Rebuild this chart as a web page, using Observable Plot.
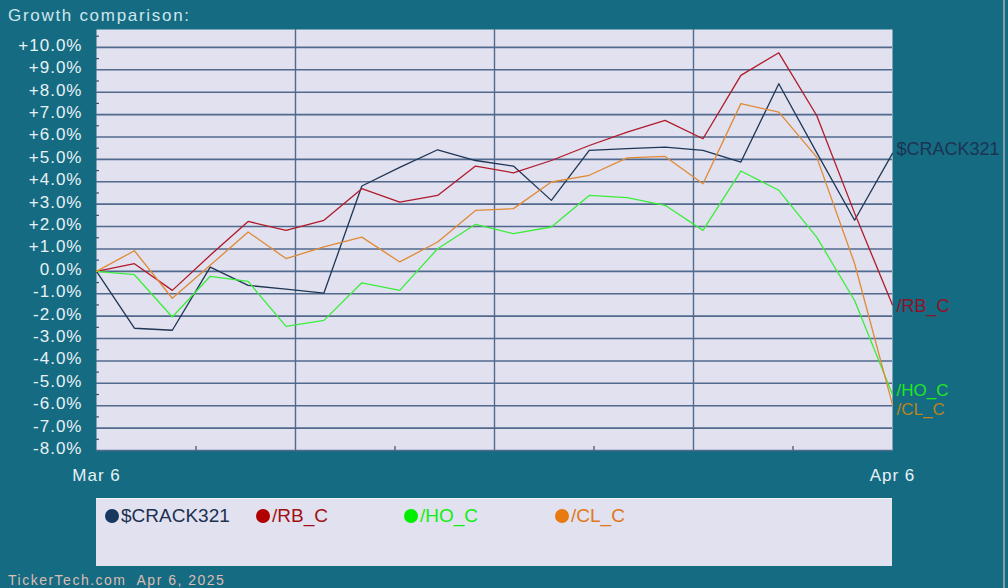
<!DOCTYPE html>
<html>
<head>
<meta charset="utf-8">
<script src="https://cdn.jsdelivr.net/npm/d3@7"></script>
<script src="https://cdn.jsdelivr.net/npm/@observablehq/plot@0.6"></script>
<style>
  html, body { margin: 0; padding: 0; background: #156b82; }
  #wrap { position: relative; width: 1008px; height: 588px; background: #156b82; overflow: hidden; font-family: "Liberation Sans", Arial, sans-serif; }
  #chart { position: absolute; left: 0; top: 0; }
  .title { position: absolute; left: 8px; top: 6px; font-size: 17px; letter-spacing: 1.7px; color: #cfe6ee; }
  .footer { position: absolute; left: 8px; top: 572px; font-size: 14px; letter-spacing: 1.5px; color: #dcbcb2; }
  .legend { position: absolute; left: 96px; top: 498px; width: 796px; height: 68px; background: #e1e1f0; border-top: 1px solid #f2f2fa; box-sizing: border-box; }
  .item { position: absolute; top: 6px; font-size: 19px; font-family: "Liberation Sans Narrow", "Arial Narrow", "Liberation Sans", sans-serif; line-height: 22px; white-space: nowrap; }
  .dot { display: inline-block; width: 14px; height: 14px; border-radius: 7px; vertical-align: -1px; margin-right: 2px; }
  .edge { position: absolute; left: 1003px; top: 0; width: 2px; height: 588px; background: #7f9faa; }
  g[aria-label="y-axis tick label"] text, g[aria-label="x-axis tick label"] text { letter-spacing: 1px; }
</style>
</head>
<body>
<div id="wrap">
  <div class="title">Growth comparison:</div>
  <div id="chart"></div>
  <div class="legend" id="legend"></div>
  <div class="footer">TickerTech.com&nbsp; Apr 6, 2025</div>
  <div class="edge"></div>
</div>
<script>
// Trading days shown (index-based x axis)
const dates = ["Mar 6","Mar 7","Mar 10","Mar 11","Mar 12","Mar 13","Mar 14","Mar 17","Mar 18","Mar 19","Mar 20","Mar 21","Mar 24","Mar 25","Mar 26","Mar 27","Mar 28","Mar 31","Apr 1","Apr 2","Apr 3","Apr 4"];
const seriesNames = ["$CRACK321", "/RB_C", "/HO_C", "/CL_C"];
const crack = [0, -2.54, -2.63, 0.19, -0.63, -0.79, -0.97, 3.81, 4.64, 5.43, 4.95, 4.70, 3.17, 5.40, 5.48, 5.55, 5.40, 4.88, 8.38, 5.30, 2.28, 5.27];
const rb    = [0, 0.34, -0.85, 0.72, 2.23, 1.83, 2.28, 3.69, 3.09, 3.39, 4.70, 4.40, 4.95, 5.62, 6.22, 6.74, 5.92, 8.75, 9.76, 6.96, 2.60, -1.50];
const ho    = [0, -0.15, -2.04, -0.22, -0.45, -2.46, -2.19, -0.51, -0.85, 1.01, 2.10, 1.68, 1.98, 3.39, 3.29, 2.95, 1.83, 4.48, 3.62, 1.53, -1.30, -5.50];
const cl    = [0, 0.92, -1.20, 0.27, 1.76, 0.57, 1.09, 1.53, 0.42, 1.31, 2.72, 2.80, 3.99, 4.29, 5.07, 5.13, 3.91, 7.49, 7.11, 5.10, 0.35, -5.95];
const yTicks = d3.range(-8, 11, 1);
const yMinor = d3.range(-7.5, 11, 1);
const xTickLabels = ["Mar 6", "Apr 6"];

const lineColors  = ["#1e3655", "#b01a2a", "#3aee3a", "#e08a34"];
const labelColors = ["#1c3452", "#8c1428", "#22e622", "#b8841e"];
const dotColors   = ["#17375e", "#b00000", "#00ee00", "#e87a10"];
const legendText  = ["#1c3050", "#a01010", "#11ee11", "#e07818"];
const labelDy     = [-4, 1, -4, 5];

const seriesValues = [crack, rb, ho, cl];
const rows = [];
seriesNames.forEach((s, k) => seriesValues[k].forEach((v, i) => rows.push({series: s, i, date: dates[i], v})));
const last = dates.length - 1;
const grid = "#51698b";

const plot = Plot.plot({
  width: 1008, height: 588,
  marginLeft: 96, marginRight: 116, marginTop: 29, marginBottom: 138,
  x: {domain: [0, last], axis: null, label: null},
  y: {domain: [-8, 10.8], axis: null, label: null},
  color: {domain: seriesNames, range: lineColors},
  style: {background: "transparent", color: "#e4f1f5", fontFamily: "'Liberation Sans', Arial, sans-serif", fontSize: "17px", overflow: "visible"},
  marks: [
    Plot.frame({fill: "#e1e1f0", stroke: null}),
    Plot.ruleY(yTicks, {stroke: grid, strokeWidth: 1.6}),
    Plot.ruleX([last / 4, last / 2, 3 * last / 4], {stroke: grid, strokeWidth: 1.4}),
    Plot.tickY(yMinor, {stroke: "#34506e", strokeWidth: 1.2, insetRight: 793}),
    Plot.tickX([last / 8, 3 * last / 8, 5 * last / 8, 7 * last / 8], {stroke: "#34506e", strokeWidth: 1.2, insetTop: 417}),
    Plot.line(rows, {x: "i", y: "v", z: "series", stroke: "series", strokeWidth: 1.3}),
    ...seriesNames.map((s, k) => Plot.text(rows.filter(d => d.series === s && d.i === last), {
      x: "i", y: "v", text: "series", textAnchor: "start", dx: 4, dy: labelDy[k],
      fill: labelColors[k], fontSize: k >= 2 ? 17 : 18,
      fontFamily: "'Liberation Sans Narrow', 'Arial Narrow', 'Liberation Sans', sans-serif"
    })),
    Plot.axisY(yTicks, {tickSize: 0, tickPadding: 14, dy: -2, fill: "#e6f2f6", label: null,
      tickFormat: d => (d > 0 ? "+" : "") + d.toFixed(1) + "%"}),
    Plot.axisX([0, last], {tickSize: 0, tickPadding: 18, fill: "#e6f2f6", label: null,
      tickFormat: d => d === 0 ? xTickLabels[0] : xTickLabels[1]})
  ]
});
document.getElementById("chart").appendChild(plot);

// Legend
const legendX = [9, 160, 308, 459];
const legend = document.getElementById("legend");
seriesNames.forEach((s, k) => {
  const el = document.createElement("div");
  el.className = "item";
  el.style.left = legendX[k] + "px";
  el.style.color = legendText[k];
  el.innerHTML = `<span class="dot" style="background:${dotColors[k]}"></span>`;
  el.appendChild(document.createTextNode(s));
  legend.appendChild(el);
});
</script>
</body>
</html>
